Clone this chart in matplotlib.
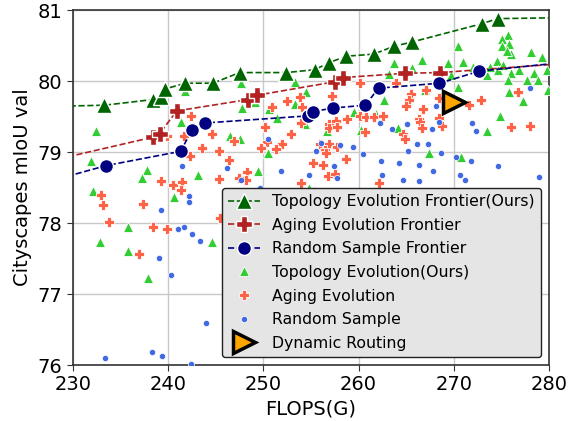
import matplotlib
matplotlib.use("Agg")
import matplotlib.pyplot as plt

# ---------------- data ----------------
topo_front_x = [220, 233.3, 238.4, 239.2, 239.7, 241.8, 244.7, 247.5, 252.4, 255.4,
                256.9, 258.7, 261.6, 263.7, 265.6, 273.0, 274.6, 290]
topo_front_y = [79.62, 79.66, 79.74, 79.77, 79.89, 79.97, 79.97, 80.12, 80.12, 80.16,
                80.26, 80.35, 80.38, 80.49, 80.55, 80.81, 80.88, 80.91]

aging_front_x = [220, 238.4, 239.1, 240.9, 248.4, 249.3, 257.5, 258.4, 264.9, 268.6, 290]
aging_front_y = [78.64, 79.21, 79.26, 79.58, 79.74, 79.80, 79.99, 80.05, 80.11, 80.12, 80.33]

random_front_x = [220, 233.5, 241.3, 242.5, 243.9, 254.7, 255.2, 257.3, 260.7, 262.1,
                  268.5, 272.7, 290]
random_front_y = [78.31, 78.81, 79.01, 79.31, 79.41, 79.51, 79.57, 79.62, 79.66, 79.90,
                  79.97, 80.14, 80.38]

topo_x = [232.4, 241.3, 246.5, 247.5, 231.9, 237.8, 237.2, 243.1, 232.1, 240.6,
          241.8, 235.8, 244.6, 232.8, 235.8, 237.9, 247.8, 249.1, 254.5, 250.6,
          253.3, 251.4, 254.4, 256.7, 259.5, 260.3, 261.8, 262.7, 250.5, 256.6,
          249.4, 254.8, 247.7, 253.3, 263.2, 275.7, 275.1, 275.8, 275.1, 276.0,
          275.6, 270.4, 278.1, 279.3, 266.7, 263.7, 265.6, 269.4, 271.0, 272.0,
          273.5, 273.8, 274.5, 274.6, 275.2, 276.0, 276.9, 278.4, 279.8, 275.7,
          277.7, 278.8, 275.8, 277.3, 274.9, 270.4, 273.5, 264.1, 267.4, 270.8,
          279.9, 269.7, 267.0]
topo_y = [79.29, 79.42, 79.22, 79.19, 78.87, 78.75, 78.64, 78.67, 78.45, 78.36,
          79.86, 77.94, 77.74, 77.74, 77.61, 77.23, 79.62, 79.70, 79.84, 79.61,
          79.68, 79.48, 79.40, 79.29, 79.56, 79.31, 79.53, 79.74, 78.98, 79.09,
          78.74, 78.49, 79.98, 79.99, 80.10, 80.65, 80.59, 80.52, 80.50, 80.38,
          80.42, 80.50, 80.41, 80.34, 80.30, 80.25, 80.19, 80.26, 80.27, 80.20,
          80.08, 80.20, 80.29, 80.16, 80.23, 80.11, 80.15, 80.11, 80.16, 80.01,
          80.01, 80.01, 79.85, 79.72, 79.51, 79.92, 79.29, 79.34, 78.98, 78.93,
          79.88, 80.08, 79.88]

aging_x = [242.4, 239.9, 241.7, 244.6, 243.6, 245.3, 242.3, 246.4, 245.3, 239.2,
           240.5, 241.5, 241.3, 232.9, 233.2, 237.4, 245.4, 233.8, 238.4, 239.9,
           236.9, 253.8, 257.2, 250.9, 252.5, 254.1, 250.2, 252.9, 254.0, 256.9,
           256.9, 257.6, 257.7, 258.8, 260.2, 260.7, 260.8, 261.6, 262.6, 246.9,
           250.4, 249.8, 252.0, 251.3, 255.9, 256.9, 256.5, 256.6, 257.7, 258.7,
           255.2, 256.3, 248.3, 256.8, 257.5, 247.4, 248.2, 254.0, 262.1, 260.1,
           263.9, 265.5, 265.3, 265.0, 266.8, 267.1, 268.5, 268.4, 266.3, 266.5,
           266.7, 268.8, 264.7, 264.9, 271.6, 272.9, 276.7, 276.0, 278.0]
aging_y = [79.51, 79.23, 79.23, 79.26, 79.06, 79.02, 78.94, 78.89, 78.62, 78.59,
           78.53, 78.58, 78.47, 78.40, 78.26, 78.27, 78.07, 78.01, 77.95, 77.91,
           77.57, 79.77, 79.79, 79.63, 79.72, 79.63, 79.36, 79.26, 79.41, 79.40,
           79.34, 79.44, 79.35, 79.47, 79.51, 79.28, 79.49, 79.49, 79.51, 79.15,
           79.14, 79.06, 79.11, 79.04, 79.12, 79.12, 79.03, 78.98, 79.07, 78.90,
           78.84, 78.82, 78.72, 78.66, 78.69, 78.64, 78.60, 78.57, 78.57, 79.98,
           79.98, 79.82, 79.74, 79.65, 79.60, 79.88, 79.76, 79.48, 79.47, 79.42,
           79.34, 79.37, 79.26, 79.19, 79.66, 79.73, 79.84, 79.36, 79.37]

random_x = [241.5, 246.2, 242.2, 242.2, 239.2, 241.0, 241.7, 242.5, 243.3, 239.0,
            240.3, 244.0, 238.3, 239.4, 233.4, 242.4, 262.3, 250.5, 256.1, 258.0,
            259.4, 255.5, 260.5, 257.4, 262.4, 251.9, 254.8, 257.7, 262.5, 247.7,
            249.6, 255.3, 278.0, 268.1, 268.5, 271.9, 272.3, 267.7, 265.1, 263.5,
            266.1, 267.3, 265.2, 268.7, 270.2, 271.8, 264.3, 266.4, 274.6, 267.8,
            270.7, 271.2, 264.7, 266.4, 279.0]
random_y = [78.80, 78.77, 78.38, 78.30, 78.18, 77.92, 77.94, 77.85, 77.75, 77.51,
            77.27, 76.59, 76.19, 76.13, 76.10, 76.02, 79.41, 79.19, 79.13, 79.10,
            79.07, 79.01, 78.97, 78.81, 78.87, 78.73, 78.67, 78.64, 78.68, 78.60,
            78.50, 78.46, 79.90, 79.65, 79.42, 79.41, 79.30, 79.32, 79.39, 79.32,
            79.12, 79.12, 79.01, 78.98, 78.93, 78.87, 78.84, 78.82, 78.80, 78.74,
            78.68, 78.61, 78.61, 78.59, 78.65]

dyn_x = [270.0]
dyn_y = [79.70]

x_ticks = [230, 240, 250, 260, 270, 280]
y_ticks = [76, 77, 78, 79, 80, 81]

# ---------------- figure ----------------
fig = plt.figure(figsize=(5.73, 4.21), dpi=100)
ax = fig.add_axes([0.1274, 0.133, 0.8306, 0.843])

ax.plot(topo_front_x, topo_front_y, '--', color='darkgreen', marker='^', ms=11,
        mec='white', mew=1.0, lw=1.2, label='Topology Evolution Frontier(Ours)', zorder=5)
ax.plot(aging_front_x, aging_front_y, '--', color='#b22222', marker='P', ms=12,
        mec='white', mew=1.0, lw=1.2, label='Aging Evolution Frontier', zorder=5)
ax.plot(random_front_x, random_front_y, '--', color='navy', marker='o', ms=10,
        mec='white', mew=1.0, lw=1.2, label='Random Sample Frontier', zorder=5)
ax.plot(topo_x, topo_y, ls='none', color='limegreen', marker='^', ms=6.5,
        mec='white', mew=0.6, label='Topology Evolution(Ours)', zorder=3)
ax.plot(aging_x, aging_y, ls='none', color='tomato', marker='P', ms=6.5,
        mec='white', mew=0.6, label='Aging Evolution', zorder=3)
ax.plot(random_x, random_y, ls='none', color='royalblue', marker='o', ms=4.5,
        mec='white', mew=0.5, label='Random Sample', zorder=3)
ax.plot(dyn_x, dyn_y, ls='none', color='orange', marker='>', ms=16,
        mec='black', mew=2.5, label='Dynamic Routing', zorder=6)

ax.set_xlim(230, 280)
ax.set_ylim(76, 81)
ax.set_xticks(x_ticks)
ax.set_yticks(y_ticks)
ax.tick_params(labelsize=14, length=4, color='#333333')
ax.set_xlabel('FLOPS(G)', fontsize=14)
ax.set_ylabel('Cityscapes mIoU val', fontsize=14)
ax.grid(True, color='#c8c8c8', lw=1.0, zorder=0)
ax.set_axisbelow(True)
for s in ax.spines.values():
    s.set_color('#333333')
    s.set_linewidth(1.2)

leg = ax.legend(loc='lower right', fontsize=11.3, facecolor='#e5e5e5',
                edgecolor='#222222', framealpha=1.0, fancybox=True,
                borderaxespad=0.5, handlelength=2.0, labelspacing=0.55)
leg.get_frame().set_linewidth(1.0)
leg.set_zorder(10)

fig.savefig('out.png', dpi=100)
